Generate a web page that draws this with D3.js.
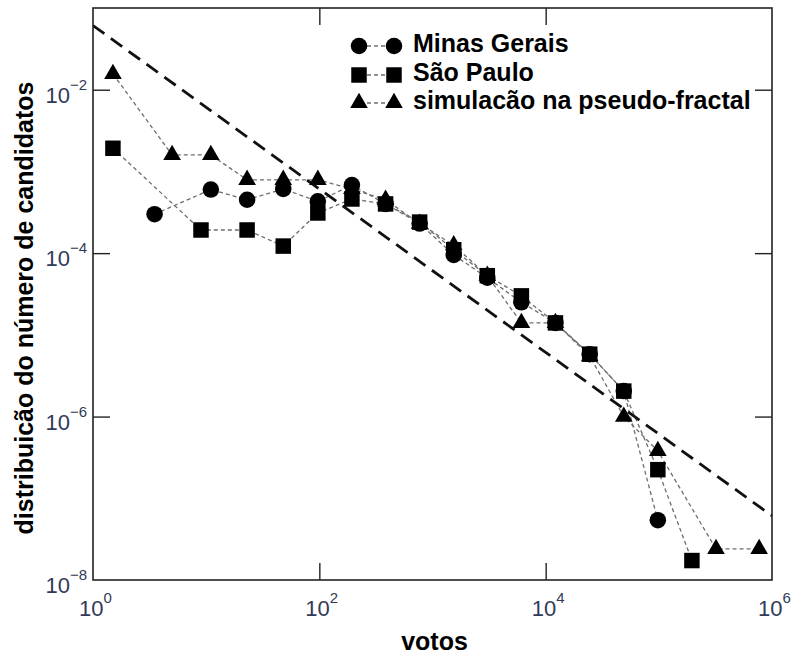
<!DOCTYPE html>
<html>
<head>
<meta charset="utf-8">
<script src="https://cdn.jsdelivr.net/npm/d3@7/dist/d3.min.js"></script>
<style>
  html, body { margin: 0; padding: 0; background: #fff; }
  svg { display: block; font-family: "Liberation Sans", Arial, sans-serif; }
</style>
</head>
<body>
<svg id="chart" width="795" height="656"></svg>
<script>
// Vote-count distribution: Minas Gerais, São Paulo and a pseudo-fractal simulation
const mgVotes = [3.5, 11, 23, 48, 97, 194, 385, 770, 1540, 3050, 6100, 12200, 24500, 49000, 98000];
const mgDist  = [3.0e-4, 6.0e-4, 4.5e-4, 6.1e-4, 4.3e-4, 6.8e-4, 4.0e-4, 2.3e-4, 9.5e-5, 5.0e-5, 2.5e-5, 1.4e-5, 5.8e-6, 2.05e-6, 5.4e-8];

const spVotes = [1.5, 9, 23, 48, 97, 194, 385, 770, 1540, 3050, 6100, 12200, 24500, 49000, 98000, 196000];
const spDist  = [1.92e-3, 1.92e-4, 1.92e-4, 1.22e-4, 3.1e-4, 4.6e-4, 4.0e-4, 2.4e-4, 1.1e-4, 5.3e-5, 3.0e-5, 1.4e-5, 5.8e-6, 2.05e-6, 2.24e-7, 1.73e-8];

const simVotes = [1.5, 5, 11, 23, 48, 97, 194, 385, 770, 1540, 3050, 6100, 12200, 24500, 49000, 98000, 320000, 770000];
const simDist  = [1.56e-2, 1.59e-3, 1.59e-3, 7.9e-4, 7.9e-4, 7.9e-4, 6.1e-4, 4.5e-4, 2.3e-4, 1.25e-4, 5.3e-5, 1.4e-5, 1.4e-5, 5.5e-6, 1.0e-6, 3.8e-7, 2.4e-8, 2.4e-8];

// Power-law guide (slope −1 in log–log), given by its two end points
const guideVotes = [1, 1e6];
const guideDist  = [0.061, 6.1e-8];

const xTickValues = [1, 1e2, 1e4, 1e6];
const xTickExps   = ["0", "2", "4", "6"];
const yTickValues = [1e-2, 1e-4, 1e-6, 1e-8];
const yTickExps   = ["−2", "−4", "−6", "−8"];

const seriesNames = ["Minas Gerais", "São Paulo", "simulacão na pseudo-fractal"];
const xTitle = "votos";
const yTitle = "distribuicão do número de candidatos";

const W = 795, H = 656;
const margin = { top: 8, right: 23, bottom: 76, left: 93 };
const iw = W - margin.left - margin.right;
const ih = H - margin.top - margin.bottom;

const svg = d3.select("#chart");
const g = svg.append("g").attr("transform", `translate(${margin.left},${margin.top})`);

const x = d3.scaleLog().domain([1, 1e6]).range([0, iw]);
const y = d3.scaleLog().domain([1e-8, 1e-1]).range([ih, 0]);

svg.append("defs").append("clipPath").attr("id", "plotClip")
  .append("rect").attr("width", iw).attr("height", ih);

// Inward ticks on all four sides
const TICK = 17;
const innerX = xTickValues.slice(1, -1);
const innerY = yTickValues.slice(0, -1);
function styleAxis(sel) {
  sel.select(".domain").remove();
  sel.selectAll(".tick line").attr("stroke", "#222").attr("stroke-width", 1.4);
  sel.selectAll(".tick text").remove();
}
g.append("g").attr("transform", `translate(0,${ih})`)
  .call(d3.axisBottom(x).tickValues(innerX).tickSizeInner(-TICK).tickSizeOuter(0).tickFormat(""))
  .call(styleAxis);
g.append("g")
  .call(d3.axisTop(x).tickValues(innerX).tickSizeInner(-TICK).tickSizeOuter(0).tickFormat(""))
  .call(styleAxis);
g.append("g")
  .call(d3.axisLeft(y).tickValues(innerY).tickSizeInner(-TICK).tickSizeOuter(0).tickFormat(""))
  .call(styleAxis);
g.append("g").attr("transform", `translate(${iw},0)`)
  .call(d3.axisRight(y).tickValues(innerY).tickSizeInner(-TICK).tickSizeOuter(0).tickFormat(""))
  .call(styleAxis);

// Frame
g.append("rect").attr("width", iw).attr("height", ih)
  .attr("fill", "none").attr("stroke", "#222").attr("stroke-width", 1.6);

// Tick labels as powers of ten
const labelColor = "#323a58";
const xl = g.append("g").attr("fill", labelColor).attr("font-size", 22);
xTickValues.forEach((v, i) => {
  const t = xl.append("text").attr("x", x(v) - 14).attr("y", ih + 36);
  t.append("tspan").text("10");
  t.append("tspan").attr("font-size", 15).attr("dy", -13).text(xTickExps[i]);
});
const yl = g.append("g").attr("fill", labelColor).attr("font-size", 22).attr("text-anchor", "end");
yTickValues.forEach((v, i) => {
  const t = yl.append("text").attr("x", -6).attr("y", y(v) + 13);
  t.append("tspan").text("10");
  t.append("tspan").attr("font-size", 15).attr("dy", -13).text(yTickExps[i]);
});

// Axis titles
svg.append("text").attr("x", margin.left + iw / 2 + 2).attr("y", 650)
  .attr("text-anchor", "middle").attr("font-weight", "bold").attr("font-size", 25)
  .attr("fill", "#000").text(xTitle);
svg.append("text").attr("transform", "translate(33,308) rotate(-90)")
  .attr("text-anchor", "middle").attr("font-weight", "bold").attr("font-size", 25)
  .attr("fill", "#000").text(yTitle);

const plot = g.append("g").attr("clip-path", "url(#plotClip)");

const series = [
  { name: seriesNames[0], votes: mgVotes,  dist: mgDist,  symbol: d3.symbolCircle,   size: 215 },
  { name: seriesNames[1], votes: spVotes,  dist: spDist,  symbol: d3.symbolSquare,   size: 240 },
  { name: seriesNames[2], votes: simVotes, dist: simDist, symbol: d3.symbolTriangle, size: 135 }
];

const line = d3.line().x(d => x(d[0])).y(d => y(d[1]));

// Thin dashed connectors
series.forEach(s => {
  plot.append("path")
    .datum(s.votes.map((v, i) => [v, s.dist[i]]))
    .attr("d", line)
    .attr("fill", "none").attr("stroke", "#6e6e6e")
    .attr("stroke-width", 1.3).attr("stroke-dasharray", "4,3");
});

// Power-law guide
plot.append("path")
  .datum(guideVotes.map((v, i) => [v, guideDist[i]]))
  .attr("d", line)
  .attr("fill", "none").attr("stroke", "#111")
  .attr("stroke-width", 2.8).attr("stroke-dasharray", "14,8");

// Markers: simulation first, then São Paulo, then Minas Gerais on top
[series[2], series[1], series[0]].forEach(s => {
  const sym = d3.symbol().type(s.symbol).size(s.size);
  plot.append("g").selectAll("path")
    .data(s.votes.map((v, i) => [v, s.dist[i]]))
    .join("path")
    .attr("transform", d => `translate(${x(d[0])},${y(d[1])})`)
    .attr("d", sym)
    .attr("fill", "#000");
});

// Legend
const legendRows = [46, 75, 103];
const legend = svg.append("g");
series.forEach((s, i) => {
  const ly = legendRows[i];
  legend.append("line").attr("x1", 360).attr("x2", 394).attr("y1", ly).attr("y2", ly)
    .attr("stroke", "#6e6e6e").attr("stroke-width", 1.3).attr("stroke-dasharray", "4,3");
  const sym = d3.symbol().type(s.symbol).size(s.size);
  [359, 394].forEach(lx => {
    legend.append("path").attr("transform", `translate(${lx},${ly})`)
      .attr("d", sym).attr("fill", "#000");
  });
  legend.append("text").attr("x", 413).attr("y", ly + 6 + (i === 0 ? 0 : 0))
    .attr("font-weight", "bold").attr("font-size", 25).attr("fill", "#000")
    .text(s.name);
});
</script>
</body>
</html>
